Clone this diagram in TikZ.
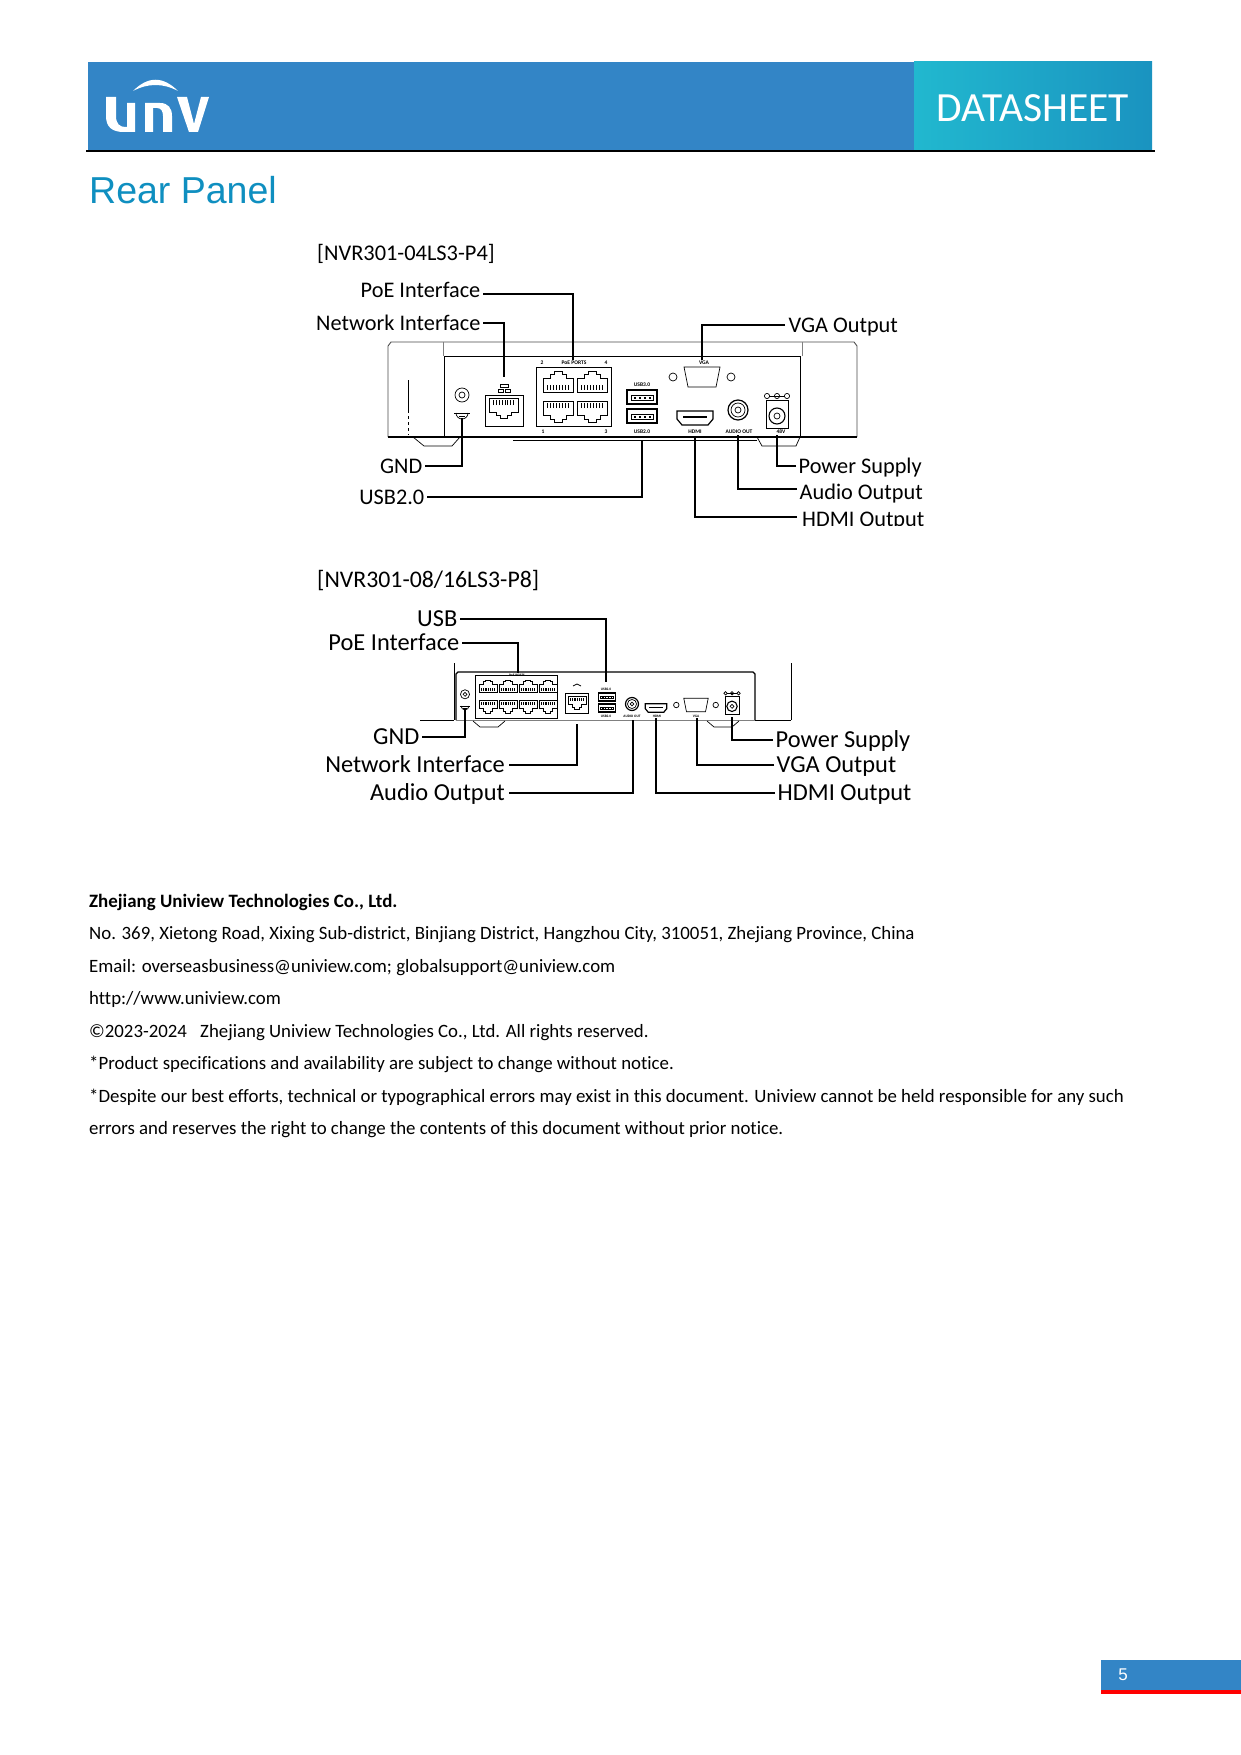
\documentclass[tikz,border=0pt]{standalone}
\usepackage{fontspec}
\setmainfont[Ligatures=NoCommon]{Carlito}
\newfontfamily\arialfont{Liberation Sans}
\usetikzlibrary{arrows.meta, positioning, calc}

\definecolor{barblue}{RGB}{51,133,198}
\definecolor{tealleft}{RGB}{33,184,207}
\definecolor{tealright}{RGB}{26,147,192}
\definecolor{headblue}{RGB}{15,143,192}

% single panel parts, centred on (x,y), last argument is the size
\newcommand{\rjport}[4]{
	\begin{scope}[shift={(#1,#2)},xscale=#4,yscale=#3*#4]
		\draw[panel] (-15,11) -- (15,11) -- (15,-3) -- (8,-3) -- (8,-7) -- (4,-7) -- (4,-10) -- (-4,-10) -- (-4,-7) -- (-8,-7) -- (-8,-3) -- (-15,-3) -- cycle;
		\foreach \c in {-11,-8,...,11} {
			\draw[line width=0.9pt] (\c,4) -- (\c,9);
		}
	\end{scope}
}
\newcommand{\usbport}[3]{
	\begin{scope}[shift={(#1,#2)},scale=#3]
		\draw[panel, line width=1.2pt] (-15,-7) rectangle (15,7);
		\draw[panel] (-11,-2) rectangle (11,3);
		\foreach \c in {-7,-2,3,8} {
			\fill (\c-1,0) rectangle (\c+1,2);
		}
	\end{scope}
}
\newcommand{\hdmiport}[3]{
	\begin{scope}[shift={(#1,#2)},scale=#3]
		\draw[panel, line width=1.2pt] (-18,-7) -- (18,-7) -- (18,1) -- (13,7) -- (-13,7) -- (-18,1) -- cycle;
		\draw[line width=1.2pt] (-12,-1) -- (12,-1);
	\end{scope}
}
\newcommand{\vgaport}[3]{
	\begin{scope}[shift={(#1,#2)},scale=#3]
		\draw[panel] (-18,-10) -- (18,-10) -- (14,10) -- (-14,10) -- cycle;
		\draw[panel] (-29,0) circle (4);
		\draw[panel] (29,0) circle (4);
	\end{scope}
}
\newcommand{\audioport}[3]{
	\begin{scope}[shift={(#1,#2)},scale=#3]
		\draw[panel, line width=1.2pt] (0,0) circle (10);
		\draw[panel] (0,0) circle (7);
		\draw[panel] (0,0) circle (3);
	\end{scope}
}
\newcommand{\powerport}[3]{
	\begin{scope}[shift={(#1,#2)},scale=#3]
		\draw[panel] (-11,-14) rectangle (11,14);
		\draw[panel, line width=1.1pt] (0,2) circle (8);
		\draw[panel] (0,2) circle (3);
		\foreach \c in {-10,0,10} {
			\draw[panel] (\c,-18) circle (2.6);
		}
		\draw[panel] (-8,-18) -- (8,-18);
	\end{scope}
}
\newcommand{\gndmark}[3]{
	\begin{scope}[shift={(#1,#2)},scale=#3]
		\draw[panel] (0,-18) circle (7);
		\draw[panel] (0,-18) circle (3);
		\draw[panel] (-6,0) arc (180:0:6);
		\draw[line width=1pt] (-8,0) -- (8,0);
		\draw[line width=0.8pt] (-3,3) -- (3,3);
	\end{scope}
}

\begin{document}
\begin{tikzpicture}[x=1pt, y=-1pt, >=Stealth,
		panel/.style={line width=0.7pt, black},
		wire/.style={line width=1.5pt, black},
		callout/.style={font=\fontsize{22.3}{24}\selectfont, inner ysep=0pt, inner xsep=2.5pt, text height=17.5pt, text depth=2pt},
		calloutB/.style={font=\fontsize{24.4}{26}\selectfont, inner ysep=0pt, inner xsep=2.5pt, text height=17.5pt, text depth=3pt},
		model/.style={font=\fontsize{22.4}{24}\selectfont, inner sep=0pt, anchor=west},
		tiny/.style={font=\bfseries\fontsize{5.5}{6}\selectfont, inner sep=0pt},
		tinyB/.style={font=\bfseries\fontsize{3.5}{4}\selectfont, inner sep=0pt},
		para/.style={font=\fontsize{18.83}{20}\selectfont, inner sep=0pt, anchor=base west}
		]
	\useasboundingbox (0,0) rectangle (1241,1755);
	\fill[white] (0,0) rectangle (1241,1755);

	% Header bar
	\fill[barblue] (88,62) rectangle (914,150);
	\fill[left color=tealleft, right color=tealright] (914,62) rectangle (1152,150);
	\draw[line width=1.4pt] (86,151) -- (1155,151);
	\node[inner sep=0pt, text=white, font=\fontsize{41.5}{44}\selectfont] (datasheet) at (1033,108) {DATASHEET};

	% Logo
	\fill[white] (106,97) -- (116,97) -- (116,116) .. controls (116,124) and (120,127) .. (125,127) -- (127,127) -- (127,103) -- (135,103) -- (135,132) -- (124,132) .. controls (112,132) and (106,127) .. (106,116) -- cycle;
	\fill[white] (145,132) -- (145,103) -- (160,103) .. controls (168,103) and (172,108) .. (172,116) -- (172,132) -- (163,132) -- (163,116) .. controls (163,111) and (161,108) .. (157,108) -- (153,108) -- (153,132) -- cycle;
	\fill[white] (177,97) -- (187,97) -- (194,124) -- (201,97) -- (209,97) -- (198,132) -- (189,132) -- cycle;
	\fill[white] (133,91) .. controls (148,76) and (163,76) .. (178,91) .. controls (163,83) and (148,83) .. (133,91) -- cycle;

	% Section title
	\node[inner sep=0pt, anchor=base west, text=headblue, font=\arialfont\fontsize{37.5}{42}\selectfont] (title) at (89,204) {Rear Panel};

	% 1. Four port recorder
	\node[model] (modelOne) at (317,254) {[NVR301-04LS3-P4]};

	\draw[line width=0.9pt, gray!60!black] (388,437) -- (388,346) -- (391,342) -- (854,342) -- (857,346) -- (857,437);
	\draw[line width=0.5pt, gray] (443,342) -- (443,356);
	\draw[line width=0.5pt, gray] (802,342) -- (802,356);
	\draw[line width=1pt] (444,437) -- (444,356) -- (800,356) -- (800,437);
	\draw[line width=1.2pt] (388,437) -- (857,437);
	\draw[line width=0.8pt] (513,440) -- (757,440);
	\draw[line width=0.5pt] (408,380) -- (408,410);
	\draw[line width=0.5pt, dashed] (408,410) -- (408,435);
	\draw[panel] (413,437) -- (424,446) -- (452,446) -- (460,437);
	\draw[panel] (757,437) -- (762,446) -- (796,446) -- (800,437);

	\gndmark{462}{413}{1}
	\draw[panel] (485,426) -- (485,395) -- (523,395) -- (523,426) -- cycle;
	\rjport{504}{409}{-1}{0.95}
	\draw[panel] (500,384) rectangle (508,387);
	\draw[panel] (498,389) rectangle (503,392);
	\draw[panel] (505,389) rectangle (510,392);

	\draw[panel] (536,426) -- (536,367) -- (611,367) -- (611,426) -- cycle;
	\foreach \px in {558,592} {
		\rjport{\px}{381}{1}{1}
		\rjport{\px}{412}{-1}{1}
	}
	\usbport{642}{397}{1}
	\usbport{642}{416}{1}
	\hdmiport{695}{418}{1}
	\audioport{738}{410}{1}
	\vgaport{702}{377}{1}
	\powerport{777}{414}{1}

	\node[tiny] (tagPoe) at (574,363) {PoE PORTS};
	\node[tiny] (tagTwo) at (542,363) {2};
	\node[tiny] (tagFour) at (606,363) {4};
	\node[tiny] (tagOne) at (543,432) {1};
	\node[tiny] (tagThree) at (606,432) {3};
	\node[tiny] (tagUsbA) at (642,385) {USB3.0};
	\node[tiny] (tagUsbB) at (642,432) {USB2.0};
	\node[tiny] (tagVga) at (704,363) {VGA};
	\node[tiny] (tagHdmi) at (695,432) {HDMI};
	\node[tiny] (tagAudio) at (739,432) {AUDIO OUT};
	\node[tiny] (tagPower) at (781,432) {48V};

	\coordinate (portPoe) at (573,360);
	\coordinate (portLan) at (504,377);
	\coordinate (portVga) at (702,360);
	\coordinate (portGnd) at (462,418);
	\coordinate (portUsb) at (642,440);
	\coordinate (portHdmi) at (695,437);
	\coordinate (portAudio) at (738,435);
	\coordinate (portPower) at (777,435);

	\node[callout, anchor=east, text height=13pt, text depth=5.5pt] (lblPoe) at (483,294) {PoE Interface};
	\node[callout, anchor=east] (lblLan) at (483,323) {Network Interface};
	\node[callout, anchor=west, inner xsep=3.5pt] (lblVga) at (785,325) {VGA Output};
	\node[callout, anchor=east] (lblGnd) at (425,466) {GND};
	\node[callout, anchor=east] (lblUsb) at (427,497) {USB2.0};
	\node[callout, anchor=west] (lblPower) at (796,466) {Power Supply};
	\node[callout, anchor=west, text height=21pt, text depth=0pt] (lblAudio) at (797,489) {Audio Output};
	\node[callout, anchor=west, inner xsep=5pt, text height=19.5pt, text depth=0pt] (lblHdmi) at (797,517) {HDMI Output};
	% bottom of this label is cut off in the page
	\fill[white] (790,526) rectangle (930,536);

	\draw[wire] (lblPoe.east) -| (portPoe);
	\draw[wire] (lblLan.east) -| (portLan);
	\draw[wire] (lblVga.west) -| (portVga);
	\draw[wire] (lblGnd.east) -| (portGnd);
	\draw[wire] (lblUsb.east) -| (portUsb);
	\draw[wire] (lblPower.west) -| (portPower);
	\draw[wire] (lblAudio.west) -| (portAudio);
	\draw[wire] (lblHdmi.west) -| (portHdmi);

	% 2. Eight port recorder
	\node[model, font=\fontsize{23.8}{26}\selectfont] (modelTwo) at (317,581) {[NVR301-08/16LS3-P8]};

	\draw[line width=1pt] (454,663) -- (454,720);
	\draw[line width=1pt] (791,663) -- (791,720);
	\draw[line width=1.2pt] (456,720) -- (456,674) -- (458,672) -- (753,672) -- (755,674) -- (755,720);
	\draw[panel] (420,720) -- (454,720);
	\draw[panel] (755,720) -- (791,720);
	\draw[line width=0.5pt, gray] (456,720) -- (755,720);
	\draw[panel] (473,721) -- (480,727) -- (498,727) -- (505,721);
	\draw[panel] (707,721) -- (714,727) -- (732,727) -- (739,721);

	\gndmark{465}{706}{0.65}
	\draw[panel] (475,718) -- (475,675) -- (557,675) -- (557,718) -- cycle;
	\foreach \px in {488,508,528,548} {
		\rjport{\px}{686}{1}{0.6}
		\rjport{\px}{707}{-1}{0.6}
	}
	\draw[panel] (565,693) rectangle (588,713);
	\rjport{577}{703}{-1}{0.6}
	\draw[panel] (573,686) -- (577,684) -- (581,686);
	\usbport{607}{697}{0.57}
	\usbport{607}{708}{0.57}
	\audioport{632}{704}{0.65}
	\hdmiport{656}{708}{0.6}
	\vgaport{696}{705}{0.68}
	\powerport{732}{705}{0.65}

	\node[tinyB] (tagPoeB) at (517,675) {PoE PORTS};
	\node[tinyB] (tagUsbC) at (606,689) {USB2.0};
	\node[tinyB] (tagUsbD) at (606,716) {USB2.0};
	\node[tinyB] (tagAudioB) at (632,716) {AUDIO OUT};
	\node[tinyB] (tagHdmiB) at (657,716) {HDMI};
	\node[tinyB] (tagVgaB) at (696,716) {VGA};

	\coordinate (portUsbB) at (606,682);
	\coordinate (portPoeB) at (518,673);
	\coordinate (portGndB) at (465,708);
	\coordinate (portLanB) at (577,724);
	\coordinate (portAudioB) at (633,720);
	\coordinate (portHdmiB) at (656,718);
	\coordinate (portVgaB) at (697,718);
	\coordinate (portPowerB) at (732,717);

	\node[calloutB, anchor=east] (lblUsbB) at (460,619) {USB};
	\node[calloutB, anchor=east] (lblPoeB) at (462,643) {PoE Interface};
	\node[calloutB, anchor=east] (lblGndB) at (422,737) {GND};
	\node[calloutB, anchor=east, inner xsep=4pt] (lblLanB) at (509,765) {Network Interface};
	\node[calloutB, anchor=east, inner xsep=4pt] (lblAudioB) at (509,793) {Audio Output};
	\node[calloutB, anchor=west] (lblPowerB) at (773,740) {Power Supply};
	\node[calloutB, anchor=west] (lblVgaB) at (774,765) {VGA Output};
	\node[calloutB, anchor=west] (lblHdmiB) at (775,793) {HDMI Output};

	\draw[wire] (lblUsbB.east) -| (portUsbB);
	\draw[wire] (lblPoeB.east) -| (portPoeB);
	\draw[wire] (lblGndB.east) -| (portGndB);
	\draw[wire] (lblLanB.east) -| (portLanB);
	\draw[wire] (lblAudioB.east) -| (portAudioB);
	\draw[wire] (lblPowerB.west) -| (portPowerB);
	\draw[wire] (lblVgaB.west) -| (portVgaB);
	\draw[wire] (lblHdmiB.west) -| (portHdmiB);

	% 3. Company text
	\node[para, font=\bfseries\fontsize{18.9}{20}\selectfont] (company) at (89,907) {Zhejiang Uniview Technologies Co., Ltd.};
	\node[para] (address) at (89,939) {No. 369, Xietong Road, Xixing Sub-district, Binjiang District, Hangzhou City, 310051, Zhejiang Province, China};
	\node[para] (email) at (89,972) {Email: overseasbusiness@uniview.com; globalsupport@uniview.com};
	\node[para] (website) at (89,1004) {http://www.uniview.com};
	\node[para] (rights) at (89,1037) {©2023-2024\hspace{0.7em}Zhejiang Uniview Technologies Co., Ltd. All rights reserved.};
	\node[para] (notice) at (89,1069) {*Product specifications and availability are subject to change without notice.};
	\node[para] (errorsA) at (89,1102) {*Despite our best efforts, technical or typographical errors may exist in this document. Uniview cannot be held responsible for any such};
	\node[para] (errorsB) at (89,1134) {errors and reserves the right to change the contents of this document without prior notice.};

	% 4. Page number
	\fill[barblue] (1101,1660) rectangle (1241,1690);
	\fill[red] (1101,1690) rectangle (1241,1694);
	\node[inner sep=0pt, text=white, font=\arialfont\fontsize{17}{18}\selectfont] (pagenum) at (1123,1675) {5};
\end{tikzpicture}
\end{document}
